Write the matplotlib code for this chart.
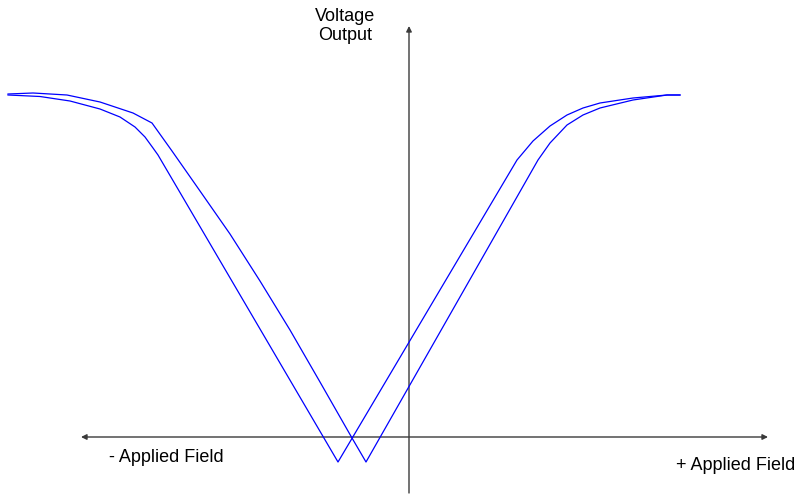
import matplotlib
matplotlib.use("Agg")
import matplotlib.pyplot as plt

# Field / voltage in arbitrary units (origin at the axes crossing)
# Sweep A (lower-field minimum)
field_a = [-401, -369, -339, -309, -289, -274, -264, -256, -251, -71,
           108, 124, 141, 158, 174, 191, 224, 258, 271]
volt_a = [342, 340.5, 336, 328, 320, 310, 300, 289, 282, -25,
          277, 296, 311, 322, 329, 334, 339, 342, 342]

# Sweep B (higher-field minimum)
field_b = [-401, -376, -342, -309, -276, -257, -237, -209, -179, -149, -119, -89, -57, -43,
           129, 141, 158, 174, 191, 224, 258, 271]
volt_b = [343, 344, 342, 335, 324, 314, 286, 246, 203, 156, 107, 55, -1, -25,
          277, 294, 312, 322, 329, 337, 342, 342]

x_label_neg = "- Applied Field"
x_label_pos = "+ Applied Field"
y_label = "Voltage\nOutput"

plt.rcParams["font.family"] = ["Liberation Sans", "DejaVu Sans"]

fig = plt.figure(figsize=(8, 4.96), dpi=100)
ax = fig.add_axes([0, 0, 1, 1])
ax.set_xlim(-409, 391)
ax.set_ylim(-59, 437)
ax.axis("off")

axis_col = "#3a3a3a"
# horizontal axis, arrow both ends
ax.annotate("", xy=(359, 0), xytext=(-328, 0),
            arrowprops=dict(arrowstyle="<|-|>", color=axis_col, lw=1.0,
                            mutation_scale=8, shrinkA=0, shrinkB=0))
# vertical axis, arrow at top only
ax.annotate("", xy=(0, 411), xytext=(0, -56),
            arrowprops=dict(arrowstyle="-|>", color=axis_col, lw=1.0,
                            mutation_scale=8, shrinkA=0, shrinkB=0))

ax.plot(field_a, volt_a, color="#0000ff", lw=0.9, zorder=3)
ax.plot(field_b, volt_b, color="#0000ff", lw=0.9, zorder=3)

ax.text(-64, 411, y_label, ha="center", va="center", fontsize=13,
        linespacing=1.15)
ax.text(-243, -20, x_label_neg, ha="center", va="center", fontsize=13)
ax.text(327, -28, x_label_pos, ha="center", va="center", fontsize=13)

fig.savefig("out.png", dpi=100)
